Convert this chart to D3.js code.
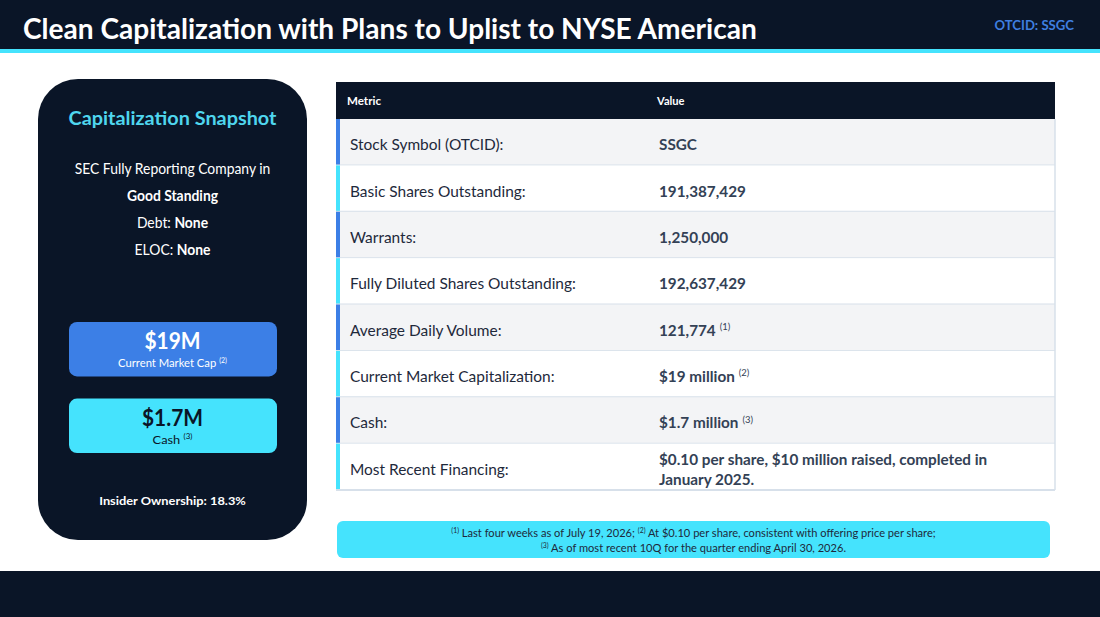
<!DOCTYPE html>
<html>
<head>
<meta charset="utf-8">
<script src="https://cdn.jsdelivr.net/npm/d3@7"></script>
<style>
  body { margin: 0; background: #fff; }
  svg { display: block; }
</style>
</head>
<body>
<svg id="chart"></svg>
<script>
// slide content
const title = "Clean Capitalization with Plans to Uplist to NYSE American";
const ticker = "OTCID: SSGC";
const tableHeader = ["Metric", "Value"];
const metrics = [
  "Stock Symbol (OTCID):",
  "Basic Shares Outstanding:",
  "Warrants:",
  "Fully Diluted Shares Outstanding:",
  "Average Daily Volume:",
  "Current Market Capitalization:",
  "Cash:",
  "Most Recent Financing:",
];
const values = [
  "SSGC",
  "191,387,429",
  "1,250,000",
  "192,637,429",
  "121,774",
  "$19 million",
  "$1.7 million",
  "$0.10 per share, $10 million raised, completed in January 2025.",
];
const valueNotes = ["", "", "", "", "(1)", "(2)", "(3)", ""];

const snapshotTitle = "Capitalization Snapshot";
const snapshotPlain = ["SEC Fully Reporting Company in", "", "Debt: ", "ELOC: "];
const snapshotBold = ["", "Good Standing", "None", "None"];
const highlights = ["$19M", "$1.7M"];
const highlightLabels = ["Current Market Cap", "Cash"];
const highlightNotes = ["(2)", "(3)"];
const insider = "Insider Ownership: 18.3%";
const footNotes = [
  ["(1)", " Last four weeks as of July 19, 2026; ", "(2)", " At $0.10 per share, consistent with offering price per share;"],
  ["(3)", " As of most recent 10Q for the quarter ending April 30, 2026."],
];

const W = 1100, H = 617;
const FONT = "Lato, 'Open Sans', sans-serif";
const navy = "#0a1527";
const blue = "#3c7fe6";
const cyan = "#45e3fd";

const svg = d3.select("#chart").attr("width", W).attr("height", H);

// measure natural width of a string
function measure(str, size, weight) {
  const t = svg.append("text").attr("font-family", FONT).attr("font-size", size)
    .attr("font-weight", weight).text(str);
  const w = t.node().getComputedTextLength();
  t.remove();
  return w;
}

// text made of segments; superscripts are "(n)" strings flagged sup
function addText(parent, x, y, segs, o) {
  const g = parent.append("g");
  const t = g.append("text")
    .attr("text-anchor", o.anchor || "start")
    .attr("font-family", FONT)
    .attr("font-size", o.size)
    .attr("font-weight", o.weight || 400)
    .attr("fill", o.color);
  let raised = false;
  segs.forEach((s) => {
    if (typeof s === "string") s = { t: s };
    if (!s.t) return;
    const sp = t.append("tspan").text(s.t);
    if (s.bold) sp.attr("font-weight", 700);
    if (s.sup) {
      sp.attr("font-size", o.size * 0.62).attr("font-weight", 400)
        .attr("dy", -o.size * 0.38).attr("dx", s.dx || 0);
      raised = true;
    } else if (raised) {
      sp.attr("dy", o.size * 0.38);
      raised = false;
    }
  });
  const nat = t.node().getBBox().width;
  const k = o.width ? o.width / nat : (o.k || 1);
  g.attr("transform", `translate(${x},${y}) scale(${k},1)`);
  return k;
}

// background bands
svg.append("rect").attr("width", W).attr("height", H).attr("fill", "#fff");
svg.append("rect").attr("width", W).attr("height", 49).attr("fill", navy);
svg.append("rect").attr("y", 49).attr("width", W).attr("height", 4).attr("fill", cyan);
svg.append("rect").attr("y", 571).attr("width", W).attr("height", H - 571).attr("fill", navy);

addText(svg, 23, 39, [title], { size: 29, weight: 700, color: "#fff", width: 734 });
addText(svg, 1074, 30, [ticker], { size: 13, weight: 700, color: "#3f7fe0", anchor: "end", width: 80 });

// left snapshot panel
const panel = svg.append("g");
panel.append("rect").attr("x", 38).attr("y", 79).attr("width", 269).attr("height", 461)
  .attr("rx", 40).attr("fill", navy);
const cx = 172.5;
addText(panel, cx, 125, [snapshotTitle], { size: 19, weight: 700, color: "#4fd6ee", anchor: "middle", width: 208 });

const kSnap = 196 / measure(snapshotPlain[0], 14.5, 400);
const lineY = d3.scalePoint().domain(d3.range(snapshotPlain.length)).range([174, 255]);
snapshotPlain.forEach((p, i) => {
  addText(panel, cx, lineY(i), [p, { t: snapshotBold[i], bold: true }],
    { size: 14.5, color: "#fff", anchor: "middle", k: kSnap });
});

const boxY = d3.scaleBand().domain(highlights).range([322, 453]).paddingInner(0.29);
const boxFill = [blue, cyan];
const boxText = ["#fff", navy];
const labelW = [109, 40];
highlights.forEach((h, i) => {
  const y0 = boxY(h);
  panel.append("rect").attr("x", 69).attr("y", y0).attr("width", 208)
    .attr("height", boxY.bandwidth()).attr("rx", 8).attr("fill", boxFill[i]);
  addText(panel, cx, y0 + 27, [h], { size: 22, weight: 700, color: boxText[i], anchor: "middle", k: 0.95 });
  addText(panel, cx, y0 + 45, [highlightLabels[i], { t: highlightNotes[i], sup: true, dx: 3 }],
    { size: 11.5, color: boxText[i], anchor: "middle", width: labelW[i] });
});
addText(panel, cx, 505, [insider], { size: 12, weight: 700, color: "#fff", anchor: "middle", width: 147 });

// table
const tX0 = 336, tX1 = 1055, valX = 659;
const table = svg.append("g");
table.append("rect").attr("x", tX0).attr("y", 82).attr("width", tX1 - tX0).attr("height", 37).attr("fill", navy);
addText(table, 347, 105, [tableHeader[0]], { size: 10.5, weight: 700, color: "#fff", width: 34 });
addText(table, 657, 105, [tableHeader[1]], { size: 10.5, weight: 700, color: "#fff", width: 29 });

const y = d3.scaleBand().domain(metrics).range([119, 490]);
const kMetric = 226 / measure(metrics[3], 15.5, 400);
const kValue = 87 / measure(values[1], 15.5, 700);

const rows = table.selectAll("g.row").data(metrics).join("g").attr("class", "row");
rows.append("rect")
  .attr("x", tX0).attr("y", (d) => y(d))
  .attr("width", tX1 - tX0).attr("height", y.bandwidth())
  .attr("fill", (d, i) => (i % 2 ? "#ffffff" : "#f3f4f6"));
rows.append("rect")
  .attr("x", tX0).attr("y", (d) => y(d))
  .attr("width", 4).attr("height", y.bandwidth())
  .attr("fill", (d, i) => (i % 2 ? cyan : blue));
rows.append("line")
  .attr("x1", tX0).attr("x2", tX1)
  .attr("y1", (d) => y(d) + y.bandwidth()).attr("y2", (d) => y(d) + y.bandwidth())
  .attr("stroke", "#d7e0ea").attr("stroke-width", 2);

// right edge border
table.append("line").attr("x1", tX1).attr("x2", tX1).attr("y1", 119).attr("y2", 490)
  .attr("stroke", "#d7e0ea").attr("stroke-width", 1.5);

// wrap long values
function wrap(str, maxW) {
  const words = str.split(" ");
  const lines = [];
  let cur = "";
  words.forEach((w) => {
    const test = cur ? cur + " " + w : w;
    if (measure(test, 15.5, 700) * kValue > maxW && cur) {
      lines.push(cur);
      cur = w;
    } else cur = test;
  });
  lines.push(cur);
  return lines;
}

metrics.forEach((m, i) => {
  const mid = y(m) + y.bandwidth() / 2;
  addText(table, 350, mid + 8, [m], { size: 15.5, color: "#1e293b", k: kMetric });
  const lines = wrap(values[i], 350);
  const lineH = 20;
  lines.forEach((ln, j) => {
    const by = mid + 8 + (j - (lines.length - 1) / 2) * lineH;
    const segs = [ln];
    if (j === lines.length - 1 && valueNotes[i]) segs.push({ t: valueNotes[i], sup: true, dx: 4 });
    addText(table, valX, by, segs, { size: 15.5, weight: 700, color: "#334155", k: kValue });
  });
});

// footnote box
const foot = svg.append("g");
foot.append("rect").attr("x", 337).attr("y", 521).attr("width", 713).attr("height", 37)
  .attr("rx", 6).attr("fill", cyan);
const kFoot = 494 / measure(footNotes[0].join(""), 11, 400);
footNotes.forEach((ln, i) => {
  const segs = ln.map((s) => (/^\(\d\)$/.test(s) ? { t: s, sup: true } : s));
  addText(foot, 693.5, 537 + i * 15, segs, { size: 11, color: "#1e293b", anchor: "middle", k: kFoot });
});
</script>
</body>
</html>
